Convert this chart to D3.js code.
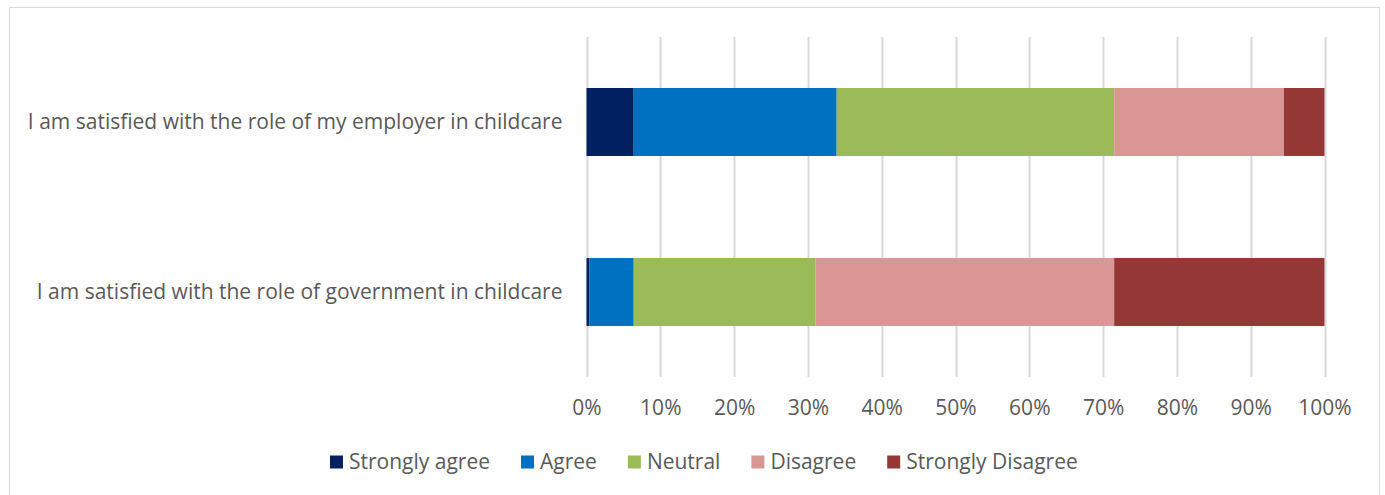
<!DOCTYPE html>
<html lang="en">
<head>
    <meta charset="UTF-8">
    <title>Childcare satisfaction</title>
    <script src="https://d3js.org/d3.v7.min.js"></script>
    <style>
        body {
            margin: 0;
            background: #fff;
            font-family: "Open Sans", sans-serif;
        }
        text {
            fill: #595959;
        }
    </style>
</head>
<body>
    <div id="chart"></div>

    <script>
        // Data (percent of respondents)
        const statements = [
            "I am satisfied with the role of my employer in childcare",
            "I am satisfied with the role of government in childcare"
        ];
        const responses = ["Strongly agree", "Agree", "Neutral", "Disagree", "Strongly Disagree"];
        const employerValues = [6.4, 27.5, 37.6, 23.0, 5.5];
        const governmentValues = [0.4, 6.0, 24.6, 40.5, 28.5];
        const responseColors = ["#002060", "#0070C0", "#9BBB59", "#D99694", "#953735"];
        const tickValues = [0, 10, 20, 30, 40, 50, 60, 70, 80, 90, 100];

        const seriesByStatement = [employerValues, governmentValues];

        const width = 1385, height = 495;
        const margin = { top: 37, right: 60.5, bottom: 118, left: 586.5 };
        const fontSize = 21;

        const svg = d3.select("#chart").append("svg")
            .attr("width", width)
            .attr("height", height);

        // chart frame
        svg.append("rect")
            .attr("x", 9.5)
            .attr("y", 7.5)
            .attr("width", 1370)
            .attr("height", 500)
            .attr("fill", "none")
            .attr("stroke", "#D9D9D9")
            .attr("stroke-width", 1);

        const x = d3.scaleLinear()
            .domain([0, 100])
            .range([margin.left, width - margin.right]);

        const y = d3.scaleBand()
            .domain(statements)
            .range([margin.top, height - margin.bottom])
            .padding(0);

        const barHeight = y.bandwidth() * 0.4;

        // gridlines
        svg.append("g")
            .selectAll("line")
            .data(tickValues)
            .join("line")
            .attr("x1", d => Math.round(x(d)) + 0.5)
            .attr("x2", d => Math.round(x(d)) + 0.5)
            .attr("y1", margin.top)
            .attr("y2", height - margin.bottom)
            .attr("stroke", "#D9D9D9")
            .attr("stroke-width", 2);

        // stack the series
        const rows = statements.map((s, i) => {
            const row = { statement: s };
            responses.forEach((r, j) => row[r] = seriesByStatement[i][j]);
            return row;
        });
        const stacked = d3.stack().keys(responses)(rows);

        svg.append("g")
            .selectAll("g")
            .data(stacked)
            .join("g")
            .attr("fill", (d, i) => responseColors[i])
            .selectAll("rect")
            .data(d => d)
            .join("rect")
            .attr("x", d => x(d[0]))
            .attr("width", d => x(d[1]) - x(d[0]))
            .attr("y", d => y(d.data.statement) + (y.bandwidth() - barHeight) / 2)
            .attr("height", barHeight);

        // x axis labels
        const xAxis = d3.axisBottom(x)
            .tickValues(tickValues)
            .tickFormat(d => d + "%")
            .tickSize(0)
            .tickPadding(0);

        svg.append("g")
            .attr("transform", `translate(0, ${height - margin.bottom + 23})`)
            .call(xAxis)
            .call(g => g.select(".domain").remove())
            .selectAll("text")
            .style("font-family", "'Open Sans', sans-serif")
            .style("font-size", fontSize + "px")
            .attr("fill", "#595959");

        // category labels
        svg.append("g")
            .selectAll("text")
            .data(statements)
            .join("text")
            .attr("x", margin.left - 24)
            .attr("y", d => y(d) + y.bandwidth() / 2)
            .attr("dy", "0.35em")
            .attr("text-anchor", "end")
            .style("font-size", fontSize + "px")
            .text(d => d);

        // legend
        const legend = svg.append("g")
            .attr("transform", "translate(0, 462)");

        let lx = 330;
        responses.forEach((r, i) => {
            const item = legend.append("g");
            item.append("rect")
                .attr("x", lx)
                .attr("y", -6.5)
                .attr("width", 13)
                .attr("height", 13)
                .attr("fill", responseColors[i]);
            const t = item.append("text")
                .attr("x", lx + 19)
                .attr("dy", "0.35em")
                .style("font-size", fontSize + "px")
                .text(r);
            lx += 19 + t.node().getComputedTextLength() + 31;
        });
    </script>
</body>
</html>
